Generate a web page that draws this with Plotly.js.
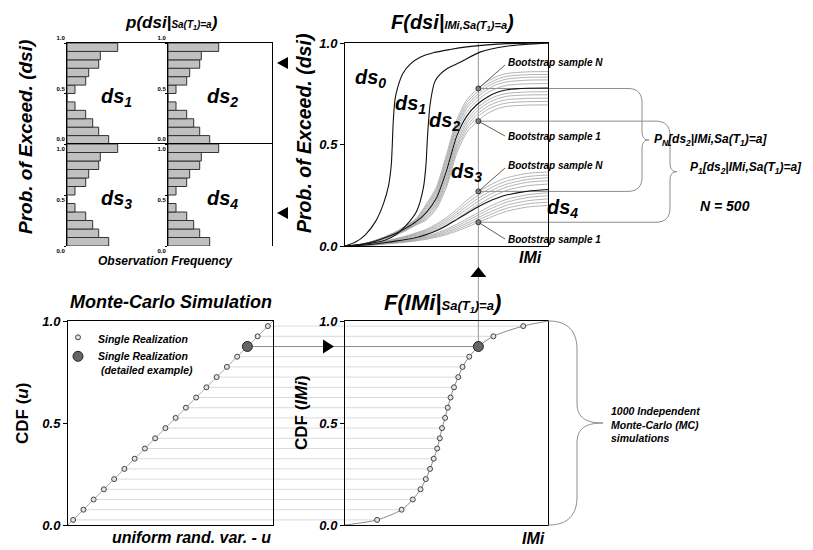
<!DOCTYPE html>
<html><head><meta charset="utf-8">
<script src="https://cdn.plot.ly/plotly-3.0.1.min.js"></script>
<style>html,body{margin:0;padding:0;background:#fff}#chart{width:813px;height:550px}</style>
</head><body><div id="chart"></div>
<script>
// ---------------- data ----------------
const HIST_BIN_CENTERS = [0.0417,0.125,0.2083,0.2917,0.375,0.4583,0.5417,0.625,0.7083,0.7917,0.875,0.9583];
const HIST_FREQ = [41.7,31.7,25.7,18.7,8,0,8,18.7,21.7,31.7,33.3,50.7];
const HIST_LABELS = ['ds<sub>1</sub>','ds<sub>2</sub>','ds<sub>3</sub>','ds<sub>4</sub>'];

const DS0_IM = [0,0.05,0.1,0.15,0.19,0.215,0.228,0.233,0.237,0.246,0.262,0.285,0.32,0.37,0.435,0.517,0.6,0.7,0.8,1.0];
const DS0_P  = [0,0.018,0.055,0.12,0.21,0.30,0.40,0.50,0.60,0.72,0.79,0.85,0.895,0.93,0.952,0.968,0.981,0.991,0.997,1.0];
const DS1_IM = [0,0.1,0.2,0.25,0.3,0.353,0.386,0.399,0.406,0.419,0.443,0.468,0.5,0.567,0.665,0.796,1.0];
const DS1_P  = [0,0.01,0.03,0.055,0.1,0.171,0.286,0.401,0.532,0.696,0.811,0.845,0.872,0.905,0.955,0.984,1.0];

const IM_GRID = [0,0.05,0.1,0.15,0.2,0.25,0.3,0.35,0.4,0.45,0.5,0.55,0.6,0.65,0.7,0.75,0.8,0.9,1.0];
const DS2_MEDIAN = [0,0.004,0.012,0.025,0.042,0.062,0.088,0.12,0.165,0.235,0.37,0.54,0.64,0.697,0.733,0.757,0.77,0.777,0.778];
const DS2_BOOT = [
 [0,0.004,0.013,0.028,0.047,0.07,0.1,0.135,0.205,0.29,0.45,0.62,0.72,0.771,0.809,0.836,0.85,0.858,0.859],
 [0,0.004,0.013,0.027,0.046,0.068,0.097,0.131,0.197,0.278,0.435,0.605,0.706,0.757,0.796,0.822,0.836,0.844,0.845],
 [0,0.004,0.013,0.027,0.045,0.066,0.095,0.128,0.19,0.268,0.42,0.59,0.692,0.744,0.784,0.809,0.823,0.831,0.832],
 [0,0.004,0.013,0.026,0.044,0.065,0.093,0.125,0.182,0.258,0.405,0.575,0.679,0.731,0.77,0.796,0.809,0.817,0.818],
 [0,0.004,0.012,0.026,0.043,0.064,0.09,0.122,0.174,0.247,0.388,0.557,0.661,0.715,0.754,0.778,0.792,0.799,0.8],
 [0,0.004,0.012,0.024,0.041,0.06,0.085,0.116,0.156,0.222,0.35,0.52,0.621,0.679,0.716,0.74,0.752,0.759,0.76],
 [0,0.004,0.011,0.024,0.04,0.058,0.082,0.112,0.149,0.212,0.335,0.503,0.606,0.664,0.702,0.725,0.738,0.744,0.745],
 [0,0.004,0.011,0.023,0.039,0.057,0.08,0.109,0.142,0.203,0.32,0.488,0.59,0.648,0.686,0.709,0.721,0.727,0.728],
 [0,0.004,0.011,0.023,0.038,0.056,0.078,0.106,0.135,0.193,0.305,0.472,0.575,0.632,0.671,0.693,0.705,0.711,0.712],
 [0,0.004,0.011,0.022,0.037,0.054,0.076,0.103,0.128,0.183,0.29,0.455,0.56,0.612,0.652,0.676,0.688,0.694,0.695]];
const DS3_MEDIAN = [0,0.002,0.005,0.010,0.017,0.024,0.032,0.042,0.056,0.075,0.100,0.130,0.160,0.190,0.215,0.236,0.252,0.270,0.278];
const DS3_BOOT = [
 [0,0.003,0.008,0.015,0.025,0.036,0.049,0.065,0.082,0.108,0.140,0.180,0.225,0.262,0.292,0.318,0.337,0.358,0.365],
 [0,0.003,0.008,0.014,0.023,0.034,0.046,0.061,0.077,0.101,0.131,0.168,0.210,0.246,0.276,0.302,0.321,0.342,0.350],
 [0,0.002,0.007,0.013,0.022,0.032,0.043,0.057,0.072,0.094,0.122,0.157,0.196,0.231,0.261,0.287,0.306,0.328,0.336],
 [0,0.002,0.007,0.012,0.020,0.029,0.040,0.053,0.067,0.087,0.113,0.146,0.182,0.216,0.246,0.272,0.292,0.314,0.322],
 [0,0.002,0.006,0.011,0.019,0.027,0.036,0.048,0.062,0.080,0.104,0.134,0.168,0.200,0.229,0.255,0.275,0.297,0.305],
 [0,0.002,0.005,0.009,0.015,0.021,0.028,0.037,0.049,0.064,0.083,0.107,0.134,0.161,0.188,0.212,0.231,0.253,0.262],
 [0,0.001,0.004,0.008,0.014,0.019,0.026,0.034,0.045,0.058,0.076,0.098,0.123,0.149,0.175,0.198,0.217,0.239,0.248],
 [0,0.001,0.004,0.008,0.013,0.018,0.024,0.031,0.041,0.053,0.069,0.089,0.112,0.137,0.161,0.183,0.202,0.223,0.232],
 [0,0.001,0.003,0.007,0.011,0.016,0.021,0.028,0.037,0.048,0.062,0.081,0.102,0.125,0.148,0.169,0.187,0.208,0.216],
 [0,0.001,0.003,0.006,0.010,0.014,0.019,0.025,0.033,0.043,0.056,0.073,0.093,0.114,0.135,0.155,0.172,0.192,0.200]];
const DS2_MARKS = [0.776, 0.615];   // bootstrap sample N, sample 1
const DS3_MARKS = [0.269, 0.117];
const CURVE_LABELS = ['ds<sub>0</sub>','ds<sub>1</sub>','ds<sub>2</sub>','ds<sub>3</sub>','ds<sub>4</sub>'];

const U_VALUES = [0.025,0.075,0.125,0.175,0.225,0.275,0.325,0.375,0.425,0.475,0.525,0.575,0.625,0.675,0.725,0.775,0.825,0.875,0.925,0.975];
const IM_VALUES = [0.158,0.279,0.334,0.372,0.398,0.419,0.437,0.454,0.467,0.478,0.493,0.506,0.520,0.537,0.558,0.579,0.612,0.657,0.731,0.878];
const DETAIL_INDEX = 17;
const CDF_LIMITS = [0, 1];

// ---------------- layout helpers ----------------
const W = 813, H = 550;
const FONT = 'Liberation Sans, Arial, Helvetica, sans-serif';
function bi(size, extra){ return Object.assign({family:FONT, size:size, color:'#000', weight:'bold', style:'italic'}, extra||{}); }
const BOX = {
  h1:[67,168,43,144], h2:[168,272,43,144], h3:[67,168,144,246], h4:[168,272,144,246],
  main:[345,548,43,246], mc:[68,273,321,525], im:[345,548,321,525]
};
function dom(b){ return {x:[b[0]/W, b[1]/W], y:[1-b[3]/H, 1-b[2]/H]}; }
function toPx(b, vx, vy){ return [b[0]+vx*(b[1]-b[0]), b[3]-vy*(b[3]-b[2])]; }
function P(px, py){ return (px/W).toFixed(5)+','+(1-py/H).toFixed(5); }

const layout = {
  width:W, height:H, margin:{l:0,r:0,t:0,b:0}, paper_bgcolor:'#fff', plot_bgcolor:'rgba(0,0,0,0)',
  bargap:0, showlegend:true, hovermode:false,
  legend:{x:58/W, y:1-324/H, xanchor:'left', yanchor:'top', bgcolor:'rgba(0,0,0,0)', borderwidth:0,
          font:bi(10.5), itemwidth:30, tracegroupgap:2, valign:'top', itemclick:false, itemdoubleclick:false},
  shapes:[], annotations:[]
};
function setAxes(n, box, xo, yo){
  const d = dom(box), s = n===1 ? '' : String(n);
  layout['xaxis'+s] = Object.assign({domain:d.x, anchor:'y'+s, range:[0,1], showgrid:false, zeroline:false,
      showticklabels:false, ticks:'', showline:true, linecolor:'#000', linewidth:1, mirror:true, fixedrange:true}, xo||{});
  layout['yaxis'+s] = Object.assign({domain:d.y, anchor:'x'+s, range:[0,1], showgrid:false, zeroline:false,
      tickvals:[0,0.5,1], ticktext:['0.0','0.5','1.0'], tickfont:bi(13), ticks:'outside', ticklen:4, tickcolor:'#000',
      showline:true, linecolor:'#000', linewidth:1, mirror:true, fixedrange:true}, yo||{});
}
// histograms
['h1','h2','h3','h4'].forEach((k,i)=>{
  const b = BOX[k];
  setAxes(i+1, b, {range:[0, b[1]-b[0]], side:'top', mirror:false},
    {tickfont:{family:FONT,size:6,color:'#000',weight:'bold'}, ticklen:2, mirror:(i%2===1),
     ticklabelposition: i<2 ? 'outside top' : 'outside bottom'});
});
setAxes(5, BOX.main);
setAxes(6, BOX.mc);
setAxes(7, BOX.im);

// ---------------- traces ----------------
const traces = [];
['h1','h2','h3','h4'].forEach((k,i)=>{
  const s = i===0 ? '' : String(i+1);
  traces.push({type:'bar', orientation:'h', x:HIST_FREQ, y:HIST_BIN_CENTERS, xaxis:'x'+s, yaxis:'y'+s,
    marker:{color:'#c0c0c0', line:{color:'#333', width:1}}, showlegend:false, hoverinfo:'skip'});
});
function curve(x, y, color, width){
  return {type:'scatter', mode:'lines', x:x, y:y, xaxis:'x5', yaxis:'y5', showlegend:false, hoverinfo:'skip',
          line:{color:color, width:width, shape:'spline', smoothing:0.7}};
}
DS2_BOOT.forEach(c=>traces.push(curve(IM_GRID, c, '#a0a0a0', 0.8)));
DS3_BOOT.forEach(c=>traces.push(curve(IM_GRID, c, '#a0a0a0', 0.8)));
traces.push(curve(IM_GRID, DS2_MEDIAN, '#111', 1.1));
traces.push(curve(IM_GRID, DS3_MEDIAN, '#111', 1.1));
traces.push(curve(DS0_IM, DS0_P, '#111', 1.1));
traces.push(curve(DS1_IM, DS1_P, '#111', 1.1));
const imDetail = IM_VALUES[DETAIL_INDEX];
const uDetail = U_VALUES[DETAIL_INDEX];
const bootMarks = DS2_MARKS.concat(DS3_MARKS);
traces.push({type:'scatter', mode:'markers', x:bootMarks.map(()=>imDetail), y:bootMarks, xaxis:'x5', yaxis:'y5',
  marker:{size:5, color:'#8a8a8a', line:{color:'#333', width:1}}, showlegend:false, hoverinfo:'skip', cliponaxis:false});

// Monte-Carlo panel
const smallIdx = U_VALUES.map((u,i)=>i).filter(i=>i!==DETAIL_INDEX);
traces.push({type:'scatter', mode:'lines', x:CDF_LIMITS, y:CDF_LIMITS, xaxis:'x6', yaxis:'y6',
  line:{color:'#a8a8a8', width:1}, showlegend:false, hoverinfo:'skip'});
traces.push({type:'scatter', mode:'markers', name:'Single Realization', x:smallIdx.map(i=>U_VALUES[i]), y:smallIdx.map(i=>U_VALUES[i]),
  xaxis:'x6', yaxis:'y6', marker:{size:5, color:'#e2e2e2', line:{color:'#444', width:1}}, cliponaxis:false, hoverinfo:'skip'});
traces.push({type:'scatter', mode:'markers', name:'Single Realization<br> (detailed example)', x:[uDetail], y:[uDetail],
  xaxis:'x6', yaxis:'y6', marker:{size:10, color:'#666', line:{color:'#222', width:1}}, cliponaxis:false, hoverinfo:'skip'});

// IM CDF panel
traces.push({type:'scatter', mode:'lines', x:[CDF_LIMITS[0]].concat(IM_VALUES, [CDF_LIMITS[1]]),
  y:[CDF_LIMITS[0]].concat(U_VALUES, [CDF_LIMITS[1]]), xaxis:'x7', yaxis:'y7',
  line:{color:'#8a8a8a', width:1, shape:'spline', smoothing:0.8}, showlegend:false, hoverinfo:'skip'});
traces.push({type:'scatter', mode:'markers', x:smallIdx.map(i=>IM_VALUES[i]), y:smallIdx.map(i=>U_VALUES[i]),
  xaxis:'x7', yaxis:'y7', marker:{size:5, color:'#e2e2e2', line:{color:'#444', width:1}}, showlegend:false, cliponaxis:false, hoverinfo:'skip'});
traces.push({type:'scatter', mode:'markers', x:[imDetail], y:[uDetail],
  xaxis:'x7', yaxis:'y7', marker:{size:10, color:'#666', line:{color:'#222', width:1}}, showlegend:false, cliponaxis:false, hoverinfo:'skip'});

// ---------------- connecting lines, braces, arrows ----------------
function seg(a, b, color, width, layer){
  layout.shapes.push({type:'line', xref:'paper', yref:'paper', x0:a[0]/W, y0:1-a[1]/H, x1:b[0]/W, y1:1-b[1]/H,
    line:{color:color, width:width}, layer:layer||'below'});
}
function path(d, color, fill, layer){
  layout.shapes.push({type:'path', xref:'paper', yref:'paper', path:d, line:{color:color, width:fill?0:1},
    fillcolor:fill||'rgba(0,0,0,0)', layer:layer||'above'});
}
U_VALUES.forEach((u,i)=>{
  const a = toPx(BOX.mc, u, u), b = toPx(BOX.im, IM_VALUES[i], u);
  seg(a, b, i===DETAIL_INDEX ? '#8c8c8c' : '#dadada', 1, 'below');
});
// vertical line from IM sample up through fragility plot
const vTop = toPx(BOX.main, imDetail, 1), vBot = toPx(BOX.im, imDetail, uDetail);
seg(vTop, vBot, '#9a9a9a', 1, 'below');

// brace: horizontal from xStart at yTop & yBot, vertical at xv, tip at xtip
function brace(xStart, yTop, yBot, xv, xtip, r, r2){
  const ym = (yTop+yBot)/2, t = xtip-xv;
  return 'M'+P(xStart,yTop)+' L'+P(xv-r,yTop)+
    ' C'+P(xv-r*0.35,yTop)+' '+P(xv,yTop+r*0.35)+' '+P(xv,yTop+r)+
    ' L'+P(xv,ym-r2)+
    ' C'+P(xv,ym-r2*0.25)+' '+P(xv+t*0.35,ym)+' '+P(xtip,ym)+
    ' C'+P(xv+t*0.35,ym)+' '+P(xv,ym+r2*0.25)+' '+P(xv,ym+r2)+
    ' L'+P(xv,yBot-r)+
    ' C'+P(xv,yBot-r*0.35)+' '+P(xv-r*0.35,yBot)+' '+P(xv-r,yBot)+
    ' L'+P(xStart,yBot);
}
const mN2 = toPx(BOX.main, imDetail, DS2_MARKS[0]), m12 = toPx(BOX.main, imDetail, DS2_MARKS[1]);
const mN3 = toPx(BOX.main, imDetail, DS3_MARKS[0]), m13 = toPx(BOX.main, imDetail, DS3_MARKS[1]);
path(brace(mN2[0], mN2[1], mN3[1], 642, 649, 14, 9), '#8c8c8c', null, 'below');
path(brace(m12[0], m12[1], m13[1], 670, 677, 14, 9), '#8c8c8c', null, 'below');
const imTR = toPx(BOX.im, 1, 1), imBR = toPx(BOX.im, 1, 0);
path(brace(imTR[0], imTR[1], imBR[1], 577, 603, 28, 20), '#8c8c8c', null, 'above');

// leader lines to bootstrap labels
const LABEL_X = 505;
const LABEL_Y = [63, 136, 166, 239];
seg(mN2, [LABEL_X, LABEL_Y[0]+2], '#333', 0.8, 'above');
seg(m12, [LABEL_X, LABEL_Y[1]], '#333', 0.8, 'above');
seg(mN3, [LABEL_X, LABEL_Y[2]+2], '#333', 0.8, 'above');
seg(m13, [LABEL_X, LABEL_Y[3]], '#333', 0.8, 'above');

// arrowheads
function tri(a,b,c){ path('M'+P(a[0],a[1])+' L'+P(b[0],b[1])+' L'+P(c[0],c[1])+' Z', '#000', '#000', 'above'); }
tri([277,63],[288,57],[288,69]);
tri([277,213],[288,207],[288,219]);
tri([vTop[0],267],[vTop[0]-8,277],[vTop[0]+8,277]);
const dY = toPx(BOX.mc, uDetail, uDetail)[1];
tri([334,dY],[323,dY-7],[323,dY+7]);

// ---------------- text ----------------
function A(px, py, text, font, o){
  layout.annotations.push(Object.assign({xref:'paper', yref:'paper', x:px/W, y:1-py/H, text:text, showarrow:false,
    font:font, xanchor:'center', yanchor:'middle'}, o||{}));
}
function SM(sz){ return '<span style="font-size:'+sz+'px">'; }
A(171, 22, 'p(dsi|'+SM(10)+'Sa(T<sub>1</sub>)=a</span>)', bi(17));
A(452, 22, 'F(dsi|'+SM(11)+'IMi,Sa(T<sub>1</sub>)=a</span>)', bi(20));
A(171, 302, 'Monte-Carlo Simulation', bi(18));
A(443, 302, 'F(IMi|'+SM(13)+'Sa(T<sub>1</sub>)=a</span>)', bi(22));
A(26, 137, 'Prob. of Exceed. (dsi)', bi(19), {textangle:-90});
A(304, 134, 'Prob. of Exceed. (dsi)', bi(19.5), {textangle:-90});
A(22, 414, 'CDF (<i>u</i>)', bi(17,{style:'normal'}), {textangle:-90});
A(301, 413, 'CDF (<i>IMi</i>)', bi(17,{style:'normal'}), {textangle:-90});
A(165, 261, 'Observation Frequency', bi(12));
A(544, 257, 'IMi', bi(16), {xanchor:'right'});
A(273, 537, 'uniform rand. var. - u', bi(16), {xanchor:'right'});
A(547, 538, 'IMi', bi(16), {xanchor:'right'});
// histogram labels
[[116,97],[222,97],[116,199],[222,199]].forEach((p,i)=>A(p[0], p[1], HIST_LABELS[i], bi(20)));
// fragility curve labels
[[370,78],[410,104],[444,122],[466,172],[562,208]].forEach((p,i)=>A(p[0], p[1], CURVE_LABELS[i], bi(20)));
// bootstrap labels
['Bootstrap sample N','Bootstrap sample 1','Bootstrap sample N','Bootstrap sample 1'].forEach((t,i)=>
  A(LABEL_X+1, LABEL_Y[i], t, bi(10), {xanchor:'left'}));
A(652, 140, 'P<sub>N</sub>[ds<sub>2</sub>|IMi,Sa(T<sub>1</sub>)=a]', bi(12), {xanchor:'left'});
A(688, 168, 'P<sub>1</sub>[ds<sub>2</sub>|IMi,Sa(T<sub>1</sub>)=a]', bi(12), {xanchor:'left'});
A(698, 206, 'N = 500', bi(14), {xanchor:'left'});
A(609, 424, '1000 Independent<br>Monte-Carlo (MC)<br>simulations', bi(10.5), {xanchor:'left', align:'left'});

Plotly.newPlot('chart', traces, layout, {staticPlot:true, displayModeBar:false});
</script></body></html>
